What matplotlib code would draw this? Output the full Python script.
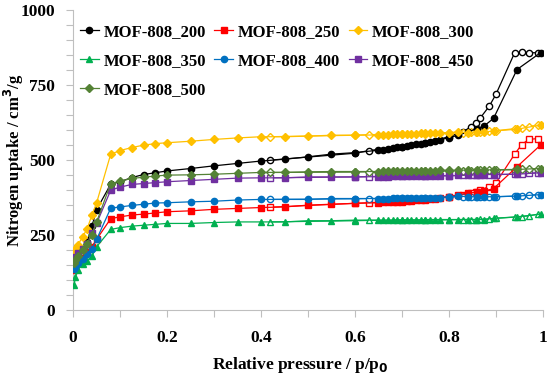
import matplotlib
matplotlib.use('Agg')
import matplotlib.pyplot as plt
from matplotlib.ticker import MultipleLocator, FuncFormatter

# N2 isotherms of MOF-808 activated at different temperatures

ADS_P = [0.002, 0.005, 0.01, 0.02, 0.03, 0.04, 0.05, 0.08, 0.1, 0.125, 0.15, 0.175, 0.2,
         0.25, 0.3, 0.35, 0.4, 0.45, 0.5, 0.55, 0.6,
         0.65, 0.66, 0.67, 0.68, 0.69, 0.70, 0.71, 0.72, 0.73, 0.74, 0.75, 0.76, 0.77, 0.78,
         0.8, 0.82, 0.84, 0.86, 0.875, 0.895, 0.945, 0.995]
DES_P = [0.99, 0.97, 0.955, 0.94, 0.9, 0.886, 0.866, 0.857, 0.847, 0.83, 0.8, 0.75, 0.7,
         0.63, 0.6, 0.42]

LABELS = ['MOF-808_200', 'MOF-808_250', 'MOF-808_300', 'MOF-808_350',
          'MOF-808_400', 'MOF-808_450', 'MOF-808_500']

ads_200 = [160, 172, 185, 205, 228, 280, 335, 420, 428, 442, 452, 458, 464,
           472, 481, 489, 497, 503, 511, 520, 525,
           533, 535, 538, 540, 543, 545, 548, 550, 553, 555, 558, 560, 563, 567,
           575, 583, 594, 605, 614, 639, 802, 858]
des_200 = [858, 858, 860, 858, 719, 680, 639, 624, 611, 595, 578, 558, 545, 532, 523, 500]

ads_250 = [135, 145, 158, 175, 195, 212, 236, 305, 311, 317, 320, 324, 328,
           331, 336, 339, 342, 344, 350, 353, 356,
           358, 359, 360, 361, 362, 363, 364, 365, 366, 367, 369, 370, 372, 374,
           378, 385, 390, 393, 397, 405, 478, 550]
des_250 = [572, 569, 552, 520, 424, 412, 400, 395, 390, 385, 378, 368, 362, 358, 356, 343]

ads_300 = [195, 205, 217, 244, 272, 317, 358, 520, 532, 542, 550, 555, 558,
           563, 569, 574, 578, 578, 580, 583, 583,
           584, 585, 585, 586, 586, 587, 587, 588, 588, 589, 589, 590, 590, 591,
           592, 594, 592, 594, 594, 597, 603, 617]
des_300 = [617, 612, 608, 605, 598, 596, 595, 594, 594, 592, 590, 588, 586, 585, 583, 578]

ads_350 = [85, 110, 135, 153, 165, 180, 211, 269, 275, 280, 283, 286, 289,
           289, 292, 294, 294, 294, 298, 298, 300,
           300, 300, 300, 300, 301, 301, 301, 301, 301, 301, 302, 302, 302, 302,
           302, 302, 302, 302, 302, 306, 311, 320]
des_350 = [320, 314, 312, 310, 306, 304, 303, 302, 302, 302, 301, 300, 300, 299, 298, 294]

ads_400 = [138, 145, 156, 172, 186, 203, 236, 340, 344, 349, 353, 357, 358,
           361, 363, 367, 369, 369, 369, 372, 372,
           372, 372, 372, 373, 373, 373, 373, 374, 374, 374, 374, 375, 375, 375,
           378, 380, 378, 378, 378, 378, 380, 385]
des_400 = [385, 383, 381, 380, 378, 378, 378, 378, 378, 378, 377, 374, 373, 372, 371, 369]

ads_450 = [168, 178, 190, 205, 220, 258, 289, 400, 410, 419, 422, 425, 428,
           432, 436, 440, 441, 441, 444, 444, 444,
           445, 445, 445, 446, 446, 446, 446, 447, 447, 447, 447, 448, 448, 448,
           448, 449, 450, 451, 452, 452, 453, 458]
des_450 = [458, 456, 454, 453, 452, 452, 451, 450, 450, 449, 448, 447, 446, 445, 444, 441]

ads_500 = [158, 168, 180, 200, 222, 250, 294, 422, 430, 439, 443, 447, 450,
           451, 453, 456, 459, 459, 461, 462, 462,
           462, 463, 463, 463, 463, 464, 464, 464, 464, 465, 465, 465, 465, 466,
           466, 466, 467, 467, 467, 468, 469, 472]
des_500 = [472, 470, 469, 468, 467, 466, 466, 465, 465, 465, 464, 463, 462, 461, 460, 459]

ADS = [ads_200, ads_250, ads_300, ads_350, ads_400, ads_450, ads_500]
DES = [des_200, des_250, des_300, des_350, des_400, des_450, des_500]
COLORS = ['black', '#FF0000', '#FFC000', '#00B050', '#0070C0', '#7030A0', '#548235']
MARKERS = ['o', 's', 'D', '^', 'o', 's', 'D']
MSIZE = [4.5, 4.5, 4, 5, 4.5, 4.5, 4]

plt.rcParams['font.family'] = 'Liberation Serif'
plt.rcParams['font.weight'] = 'bold'

fig = plt.figure(figsize=(5.5, 3.75), dpi=100)
ax = fig.add_axes([0.133, 0.173, 0.854, 0.8])

handles = []
for i in range(len(LABELS)):
    h, = ax.plot(ADS_P, ADS[i], color=COLORS[i], marker=MARKERS[i], markersize=MSIZE[i],
                 linewidth=0.9, label=LABELS[i], zorder=3)
    ax.plot(DES_P, DES[i], color=COLORS[i], marker=MARKERS[i], markersize=MSIZE[i],
            markerfacecolor='white', linewidth=0.9, zorder=2)
    handles.append(h)

ax.set_xlim(0, 1)
ax.set_ylim(0, 1000)
ax.xaxis.set_major_locator(MultipleLocator(0.2))
ax.xaxis.set_minor_locator(MultipleLocator(0.1))
ax.yaxis.set_major_locator(MultipleLocator(250))
ax.yaxis.set_minor_locator(MultipleLocator(50))
ax.xaxis.set_major_formatter(FuncFormatter(lambda v, p: '%g' % round(v, 1)))

for s in ['top', 'right']:
    ax.spines[s].set_visible(False)
for s in ['left', 'bottom']:
    ax.spines[s].set_color('#BFBFBF')
ax.tick_params(which='both', colors='#BFBFBF', labelcolor='black', labelsize=12.5,
               direction='out', length=5, width=0.8)
ax.tick_params(axis='x', pad=9)
ax.tick_params(axis='y', pad=8)
for lab in ax.get_xticklabels() + ax.get_yticklabels():
    lab.set_fontweight('bold')

ax.set_xlabel('Relative pressure / p/p$_\\mathbf{0}$', fontsize=12.5, fontweight='bold')
ax.set_ylabel('Nitrogen uptake / cm$^\\mathbf{3}$/g', fontsize=12, fontweight='bold')
ax.xaxis.set_label_coords(0.483, -0.148)
ax.yaxis.set_label_coords(-0.1, 0.5)

# legend is filled column by column, so reorder to read row by row
order = [0, 3, 6, 1, 4, 2, 5]
ax.legend([handles[k] for k in order], [LABELS[k] for k in order],
          loc='upper left', bbox_to_anchor=(0.015, 0.955), ncol=3, frameon=False,
          prop={'family': 'Liberation Serif', 'weight': 'bold', 'size': 12},
          borderpad=0, borderaxespad=0,
          handlelength=1.1, columnspacing=0.5, handletextpad=0.3, labelspacing=0.8)

fig.savefig('out.png', dpi=100)
